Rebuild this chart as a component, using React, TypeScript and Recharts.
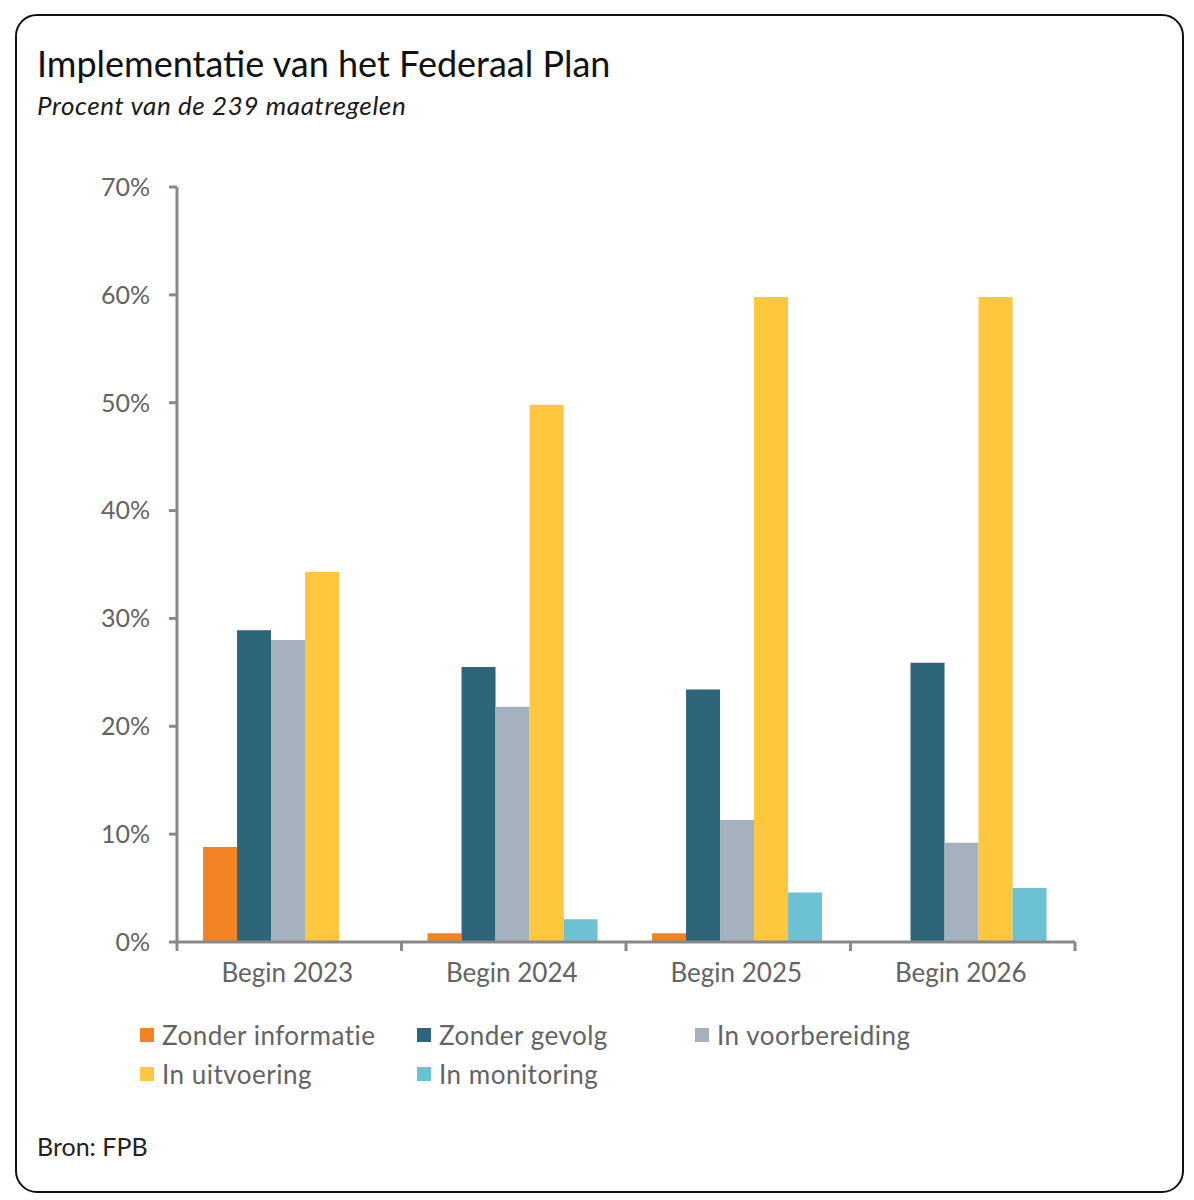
import { BarChart, Bar, XAxis, YAxis } from 'recharts';

const categories = ['Begin 2023', 'Begin 2024', 'Begin 2025', 'Begin 2026'];
const zonderInformatie = [8.8, 0.8, 0.8, 0];
const zonderGevolg = [28.9, 25.5, 23.4, 25.9];
const inVoorbereiding = [28.0, 21.8, 11.3, 9.2];
const inUitvoering = [34.3, 49.8, 59.8, 59.8];
const inMonitoring = [0, 2.1, 4.6, 5.0];
const yTicks = [0, 10, 20, 30, 40, 50, 60, 70];

const series = [
  { key: 'zonderInformatie', name: 'Zonder informatie', color: '#F28322', values: zonderInformatie },
  { key: 'zonderGevolg', name: 'Zonder gevolg', color: '#2D657A', values: zonderGevolg },
  { key: 'inVoorbereiding', name: 'In voorbereiding', color: '#A6B1BF', values: inVoorbereiding },
  { key: 'inUitvoering', name: 'In uitvoering', color: '#FFC73D', values: inUitvoering },
  { key: 'inMonitoring', name: 'In monitoring', color: '#6CC2D3', values: inMonitoring },
];

const data = categories.map((cat, i) => {
  const row: Record<string, string | number> = { cat };
  series.forEach((s) => {
    row[s.key] = s.values[i];
  });
  return row;
});

const FONT = 'Lato, "Open Sans", sans-serif';
const AXIS = '#898989';
const LABEL = '#636363';

const CHART_W = 1080;
const CHART_H = 852;
const Y_W = 157;
const M_RIGHT = 25;
const BAND = (CHART_W - Y_W - M_RIGHT) / categories.length;

function CatTick(props: any) {
  const { x, y, payload, index } = props;
  return (
    <g>
      <line x1={x - BAND / 2} x2={x - BAND / 2} y1={y} y2={y + 9} stroke={AXIS} strokeWidth={3} />
      {index === categories.length - 1 && (
        <line x1={x + BAND / 2} x2={x + BAND / 2} y1={y} y2={y + 9} stroke={AXIS} strokeWidth={3} />
      )}
      <text x={x - 2} y={y + 33} textAnchor="middle" dominantBaseline="middle" fill={LABEL} fontSize={26}>
        {payload.value}
      </text>
    </g>
  );
}

export default function App() {
  return (
    <div style={{ position: 'relative', width: 1178, height: 1185, fontFamily: FONT }}>
      <div
        style={{
          position: 'absolute',
          left: 7,
          top: 6,
          width: 1169,
          height: 1179,
          boxSizing: 'border-box',
          border: '2px solid #111',
          borderRadius: 22,
        }}
      />
      <div style={{ position: 'absolute', left: 29, top: 35, fontSize: 36, lineHeight: '40px', color: '#111' }}>
        Implementatie van het Federaal Plan
      </div>
      <div
        style={{
          position: 'absolute',
          left: 29,
          top: 82,
          fontSize: 26,
          letterSpacing: 0.6,
          lineHeight: '30px',
          fontStyle: 'italic',
          color: '#1a1a1a',
        }}
      >
        Procent van de 239 maatregelen
      </div>
      <div style={{ position: 'absolute', left: 12, top: 142 }}>
        <BarChart
          width={CHART_W}
          height={CHART_H}
          data={data}
          margin={{ top: 37, right: M_RIGHT, bottom: 0, left: 0 }}
          barCategoryGap="11.6%"
          barGap={0}
        >
          <XAxis
            dataKey="cat"
            height={60}
            axisLine={{ stroke: AXIS, strokeWidth: 3 }}
            tickLine={false}
            tickSize={0}
            tickMargin={0}
            tick={<CatTick />}
            interval={0}
          />
          <YAxis
            width={Y_W}
            domain={[0, 70]}
            ticks={yTicks}
            interval={0}
            tickFormatter={(v: number) => `${v}%`}
            axisLine={{ stroke: AXIS, strokeWidth: 3 }}
            tickLine={{ stroke: AXIS, strokeWidth: 3 }}
            tickSize={8}
            tickMargin={19}
            tick={{ fill: LABEL, fontSize: 25 }}
          />
          {series.map((s) => (
            <Bar key={s.key} dataKey={s.key} name={s.name} fill={s.color} isAnimationActive={false} />
          ))}
        </BarChart>
      </div>
      <div
        style={{
          position: 'absolute',
          left: 132,
          top: 1007,
          display: 'grid',
          gridTemplateColumns: '277px 278px 300px',
          gridAutoRows: '39px',
          fontSize: 26,
          letterSpacing: 0.5,
          color: LABEL,
        }}
      >
        {series.map((s) => (
          <div key={s.key} style={{ display: 'flex', alignItems: 'center', height: 39 }}>
            <span style={{ width: 14, height: 14, background: s.color, marginRight: 8, flex: 'none' }} />
            <span>{s.name}</span>
          </div>
        ))}
      </div>
      <div style={{ position: 'absolute', left: 29, top: 1124, fontSize: 25, lineHeight: '28px', color: '#222' }}>
        Bron: FPB
      </div>
    </div>
  );
}
